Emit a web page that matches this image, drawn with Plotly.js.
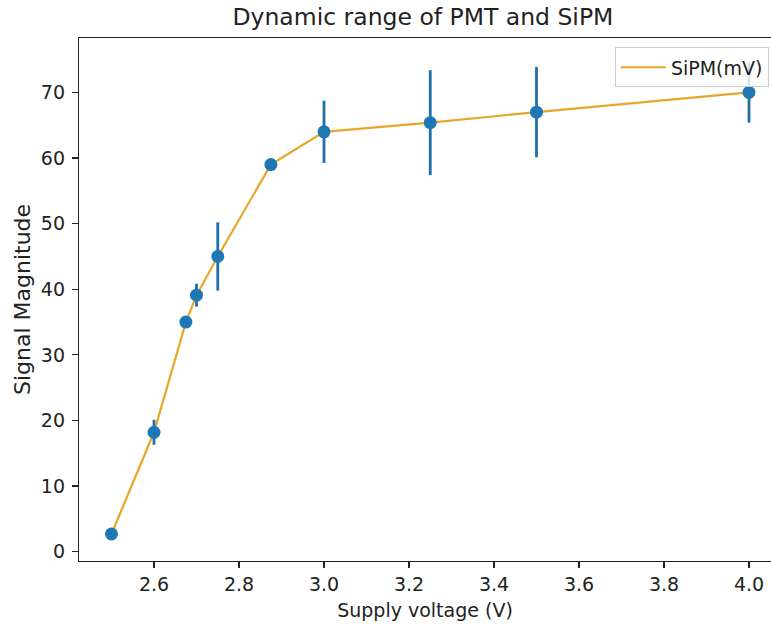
<!DOCTYPE html>
<html>
<head>
<meta charset="utf-8">
<script src="https://cdn.plot.ly/plotly-3.0.1.min.js"></script>
<style>
  html, body { margin: 0; padding: 0; background: #fff; }
  #chart { width: 771px; height: 626px; }
</style>
</head>
<body>
<div id="chart"></div>
<script>
// Data
const voltage = [2.5, 2.6, 2.675, 2.7, 2.75, 2.875, 3.0, 3.25, 3.5, 4.0];
const sipm = [2.7, 18.2, 35.0, 39.1, 45.0, 59.0, 64.0, 65.4, 67.0, 70.0];
const sipmErr = [0, 1.9, 0, 1.75, 5.2, 0, 4.75, 8.0, 6.9, 4.6];
const xTicks = [2.6, 2.8, 3.0, 3.2, 3.4, 3.6, 3.8, 4.0];
const yTicks = [0, 10, 20, 30, 40, 50, 60, 70];

const lineTrace = {
  x: voltage, y: sipm, type: 'scatter', mode: 'lines',
  name: 'SiPM(mV)',
  line: { color: '#E8A628', width: 2.2 },
  showlegend: true
};
const errTrace = {
  x: voltage, y: sipm, type: 'scatter', mode: 'markers',
  name: 'points',
  marker: { color: '#1f77b4', size: 13 },
  error_y: { type: 'data', array: sipmErr, visible: true, color: '#1f6fa8', thickness: 2.8, width: 0 },
  showlegend: false
};

const font = { family: 'DejaVu Sans, sans-serif', color: '#222', size: 19 };

const layout = {
  width: 771, height: 626,
  margin: { l: 79, r: 0, t: 38, b: 65 },
  paper_bgcolor: '#fff', plot_bgcolor: '#fff',
  font: font,
  title: { text: 'Dynamic range of PMT and SiPM', font: { family: font.family, size: 23.5, color: '#222' },
           xref: 'paper', x: 0.497, xanchor: 'center', yref: 'container', y: 0.973, yanchor: 'middle' },
  xaxis: {
    range: [2.4235, 4.0518], tickvals: xTicks, tickformat: '.1f',
    showgrid: false, zeroline: false, showline: true, mirror: true, linecolor: '#222', linewidth: 1.2,
    ticks: 'outside', ticklen: 6, tickwidth: 1.2, tickcolor: '#222',
    tickfont: { size: 19, color: '#222' },
    title: { text: 'Supply voltage (V)', font: { size: 19, color: '#222' }, standoff: 9 }
  },
  yaxis: {
    range: [-1.42, 78.3], tickvals: yTicks,
    showgrid: false, zeroline: false, showline: true, linecolor: '#222', linewidth: 1.2,
    ticks: 'outside', ticklen: 6, tickwidth: 1.2, tickcolor: '#222', ticklabelstandoff: 3,
    tickfont: { size: 19, color: '#222' },
    title: { text: 'Signal Magnitude', font: { size: 22, color: '#222' }, standoff: 4 }
  },
  legend: {
    x: 0.997, xanchor: 'right', y: 0.982, yanchor: 'top',
    bgcolor: 'rgba(255,255,255,0.8)', bordercolor: '#cccccc', borderwidth: 1,
    itemwidth: 45,
    font: { size: 19, color: '#222' }
  },
  showlegend: true
};

Plotly.newPlot('chart', [lineTrace, errTrace], layout, { displayModeBar: false, staticPlot: true });
</script>
</body>
</html>
